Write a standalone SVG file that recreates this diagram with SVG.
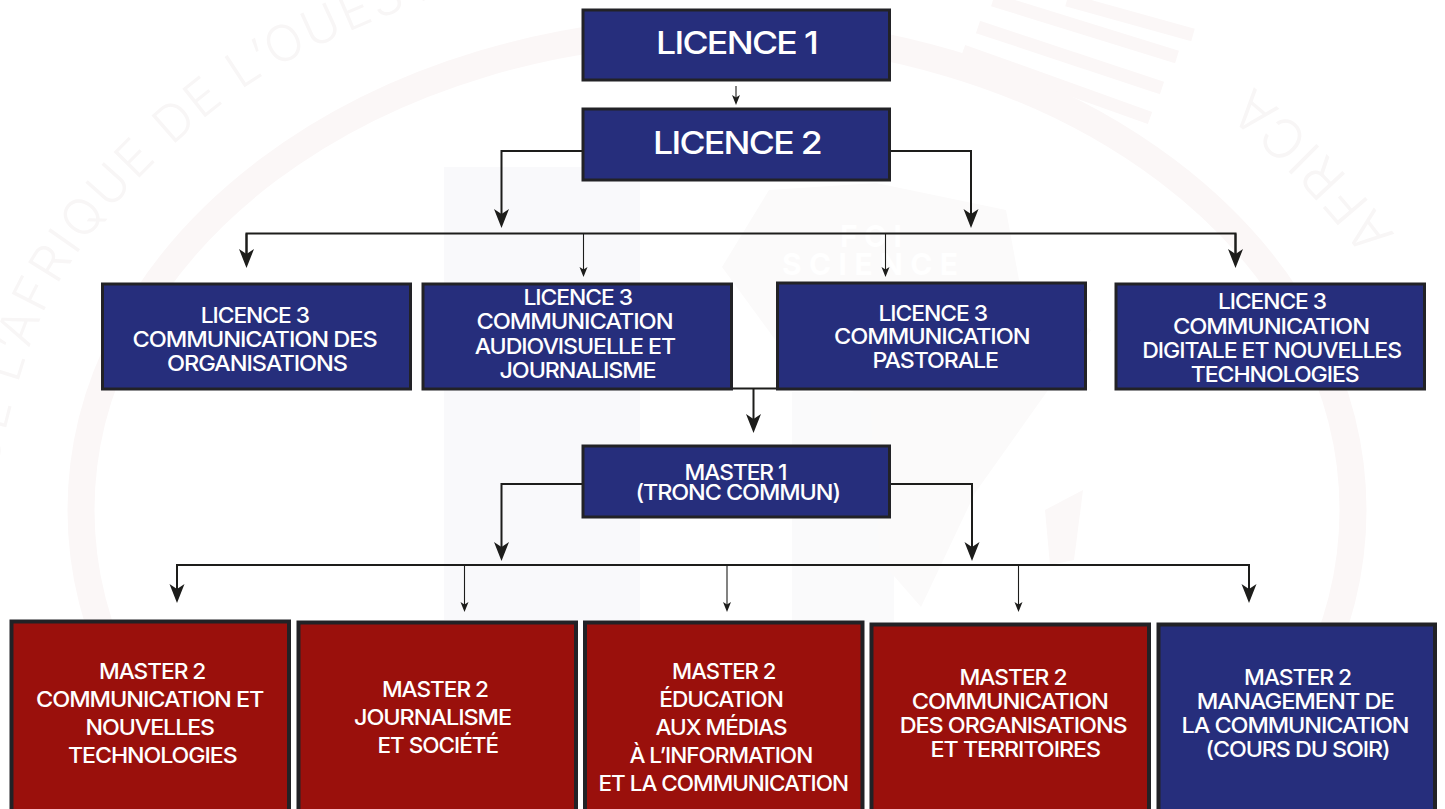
<svg xmlns="http://www.w3.org/2000/svg" width="1445" height="809" viewBox="0 0 1445 809">
<style>
.wm{fill:#f8f6f6;font-family:"Inter","Liberation Sans",sans-serif;font-weight:300}
.box{stroke:#222226}
.blue{fill:#262e7c;stroke-width:3}
.red{fill:#9a100c;stroke-width:4}
.blue2{fill:#262e7c;stroke-width:4}
text.t{fill:#fff;font-family:"Inter","Liberation Sans",sans-serif;font-weight:500;font-size:22px;letter-spacing:-1px}
text.b{font-size:31px;letter-spacing:-1.5px}
.c{fill:none;stroke:#1d1d1b;stroke-width:2}
.h{marker-end:url(#head)}
.n{stroke-width:1.1;marker-end:url(#thin)}
</style>
<defs>
<marker id="head" markerUnits="userSpaceOnUse" markerWidth="19" markerHeight="16" refX="14" refY="8" orient="auto" viewBox="0 0 19 16"><path d="M0,0.5 L19,8 L0,15.5 L5,8 Z" fill="#1d1d1b"/></marker>
<marker id="thin" markerUnits="userSpaceOnUse" markerWidth="10" markerHeight="9" refX="7" refY="4.5" orient="auto" viewBox="0 0 10 9"><path d="M0,0.5 L10,4.5 L0,8.5 L2.5,4.5 Z" fill="#1d1d1b"/></marker>
<path id="wmL" d="M-18,600 C-12,480 15,380 40,320 S120,190 190,130 S300,50 450,-10"/>
<path id="wmR" d="M1395,235 Q1325,140 1225,65"/>
</defs>
<rect width="1445" height="809" fill="#fff"/>
<g id="watermark">
<ellipse cx="717" cy="510" rx="636" ry="480" fill="none" stroke="#fbf7f7" stroke-width="27"/>
<rect x="444" y="167" width="196" height="453" fill="#f9f9fb"/>
<rect x="792" y="392" width="102" height="230" fill="#fafafb"/>
<path d="M769,190 L876,183 L1006,210 L1019,280 L1091,330 L1046,393 L975,493 L921,607 L880,560 L870,400 L790,360 L722,267 Z" fill="#fbfafa"/>
<path d="M1083,490 L1074,560 L1050,565 L1045,510 Z" fill="#fbf8f8"/>
<text x="840" y="247" font-family="Inter, sans-serif" font-weight="700" font-size="30" fill="#fff" textLength="62">FOI</text>
<text x="782" y="275" font-family="Inter, sans-serif" font-weight="700" font-size="30" fill="#fff" textLength="176">SCIENCE</text>
<path d="M963,51 L1150,118 M978,27 L1162,88 M993,0 L1177,57 M1067,0 L1193,35" fill="none" stroke="#fbf7f7" stroke-width="13"/>
<text class="wm" font-size="50" letter-spacing="3"><textPath href="#wmL">QUE DE L’AFRIQUE DE L’OUEST</textPath></text>
<text class="wm" font-size="54" letter-spacing="3"><textPath href="#wmR">AFRICA</textPath></text>
</g>
<g id="connectors">
<path class="c n" d="M736,86 V102"/>
<path class="c h" d="M582,151 H501.500 V223"/>
<path class="c h" d="M890,151 H971 V223"/>
<path class="c" d="M246.500,263 V233.500 H1235.500 V263"/>
<path class="c h" d="M246.500,233.500 V263"/>
<path class="c h" d="M1235.500,233.500 V263"/>
<path class="c n" d="M583.500,234 V274"/>
<path class="c n" d="M885.500,234 V274"/>
<path class="c" d="M732,388.500 H777"/>
<path class="c h" d="M753.500,388.500 V428"/>
<path class="c h" d="M582,484 H501.500 V556"/>
<path class="c h" d="M890,484 H972 V556"/>
<path class="c" d="M177,598 V565 H1249 V598"/>
<path class="c h" d="M177,565 V598"/>
<path class="c h" d="M1249,565 V598"/>
<path class="c n" d="M464.500,565 V609"/>
<path class="c n" d="M727,565 V609"/>
<path class="c n" d="M1018.500,565 V609"/>
</g>
<g id="licence1"><rect class="box blue" x="583" y="10" width="306.500" height="70"/>
<text class="t b" x="656" y="54" textLength="161" lengthAdjust="spacingAndGlyphs">LICENCE 1</text></g>
<g id="licence2"><rect class="box blue" x="583" y="109" width="306.500" height="71"/>
<text class="t b" x="653" y="154" textLength="168" lengthAdjust="spacingAndGlyphs">LICENCE 2</text></g>
<g id="l3-organisations"><rect class="box blue" x="102.500" y="284" width="308" height="105"/>
<text class="t" x="200.700" y="323" textLength="108.300" lengthAdjust="spacingAndGlyphs">LICENCE 3</text>
<text class="t" x="132.600" y="347" textLength="244" lengthAdjust="spacingAndGlyphs">COMMUNICATION DES</text>
<text class="t" x="167" y="371" textLength="180" lengthAdjust="spacingAndGlyphs">ORGANISATIONS</text></g>
<g id="l3-audiovisuelle"><rect class="box blue" x="423" y="284" width="308.500" height="105"/>
<text class="t" x="523.500" y="305" textLength="108.500" lengthAdjust="spacingAndGlyphs">LICENCE 3</text>
<text class="t" x="476.500" y="329" textLength="196" lengthAdjust="spacingAndGlyphs">COMMUNICATION</text>
<text class="t" x="474.700" y="354" textLength="200.300" lengthAdjust="spacingAndGlyphs">AUDIOVISUELLE ET</text>
<text class="t" x="499.500" y="378" textLength="156" lengthAdjust="spacingAndGlyphs">JOURNALISME</text></g>
<g id="l3-pastorale"><rect class="box blue" x="777.500" y="283" width="308" height="106"/>
<text class="t" x="878.500" y="321" textLength="108.500" lengthAdjust="spacingAndGlyphs">LICENCE 3</text>
<text class="t" x="834" y="344" textLength="195.500" lengthAdjust="spacingAndGlyphs">COMMUNICATION</text>
<text class="t" x="872.500" y="368" textLength="125.500" lengthAdjust="spacingAndGlyphs">PASTORALE</text></g>
<g id="l3-digitale"><rect class="box blue" x="1116" y="284" width="308.500" height="105"/>
<text class="t" x="1218" y="309" textLength="108" lengthAdjust="spacingAndGlyphs">LICENCE 3</text>
<text class="t" x="1173" y="334" textLength="196" lengthAdjust="spacingAndGlyphs">COMMUNICATION</text>
<text class="t" x="1142.300" y="358" textLength="258.700" lengthAdjust="spacingAndGlyphs">DIGITALE ET NOUVELLES</text>
<text class="t" x="1190.700" y="382" textLength="168" lengthAdjust="spacingAndGlyphs">TECHNOLOGIES</text></g>
<g id="master1"><rect class="box blue" x="583" y="446" width="306.500" height="71"/>
<text class="t" x="684.600" y="480" textLength="101.900" lengthAdjust="spacingAndGlyphs">MASTER 1</text>
<text class="t" x="635.400" y="500" textLength="204.600" lengthAdjust="spacingAndGlyphs">(TRONC COMMUN)</text></g>
<g id="m2-technologies"><rect class="box red" x="11.500" y="621.500" width="277.500" height="200"/>
<text class="t" x="99" y="679" textLength="106.300" lengthAdjust="spacingAndGlyphs">MASTER 2</text>
<text class="t" x="36" y="707" textLength="227.400" lengthAdjust="spacingAndGlyphs">COMMUNICATION ET</text>
<text class="t" x="85.600" y="735" textLength="128.400" lengthAdjust="spacingAndGlyphs">NOUVELLES</text>
<text class="t" x="68" y="763" textLength="168.600" lengthAdjust="spacingAndGlyphs">TECHNOLOGIES</text></g>
<g id="m2-journalisme"><rect class="box red" x="298.500" y="622.500" width="277.500" height="200"/>
<text class="t" x="382" y="697" textLength="106" lengthAdjust="spacingAndGlyphs">MASTER 2</text>
<text class="t" x="354" y="725" textLength="157" lengthAdjust="spacingAndGlyphs">JOURNALISME</text>
<text class="t" x="377.500" y="753" textLength="120.500" lengthAdjust="spacingAndGlyphs">ET SOCIÉTÉ</text></g>
<g id="m2-education"><rect class="box red" x="585" y="622.500" width="277.500" height="200"/>
<text class="t" x="672" y="679" textLength="103.400" lengthAdjust="spacingAndGlyphs">MASTER 2</text>
<text class="t" x="659.300" y="707" textLength="123.500" lengthAdjust="spacingAndGlyphs">ÉDUCATION</text>
<text class="t" x="655.600" y="735" textLength="130.900" lengthAdjust="spacingAndGlyphs">AUX MÉDIAS</text>
<text class="t" x="629.400" y="763" textLength="182.800" lengthAdjust="spacingAndGlyphs">À L’INFORMATION</text>
<text class="t" x="598.500" y="791" textLength="249.500" lengthAdjust="spacingAndGlyphs">ET LA COMMUNICATION</text></g>
<g id="m2-organisations"><rect class="box red" x="871.500" y="624.500" width="277.500" height="200"/>
<text class="t" x="959.600" y="685" textLength="106.800" lengthAdjust="spacingAndGlyphs">MASTER 2</text>
<text class="t" x="911.700" y="709" textLength="196.100" lengthAdjust="spacingAndGlyphs">COMMUNICATION</text>
<text class="t" x="899.700" y="733" textLength="227" lengthAdjust="spacingAndGlyphs">DES ORGANISATIONS</text>
<text class="t" x="930.600" y="757" textLength="169.400" lengthAdjust="spacingAndGlyphs">ET TERRITOIRES</text></g>
<g id="m2-management"><rect class="box blue2" x="1158.500" y="624.500" width="276.500" height="200"/>
<text class="t" x="1244" y="685" textLength="107" lengthAdjust="spacingAndGlyphs">MASTER 2</text>
<text class="t" x="1196.700" y="709" textLength="197" lengthAdjust="spacingAndGlyphs">MANAGEMENT DE</text>
<text class="t" x="1181.500" y="733" textLength="227" lengthAdjust="spacingAndGlyphs">LA COMMUNICATION</text>
<text class="t" x="1205.400" y="757" textLength="184.200" lengthAdjust="spacingAndGlyphs">(COURS DU SOIR)</text></g>
</svg>
